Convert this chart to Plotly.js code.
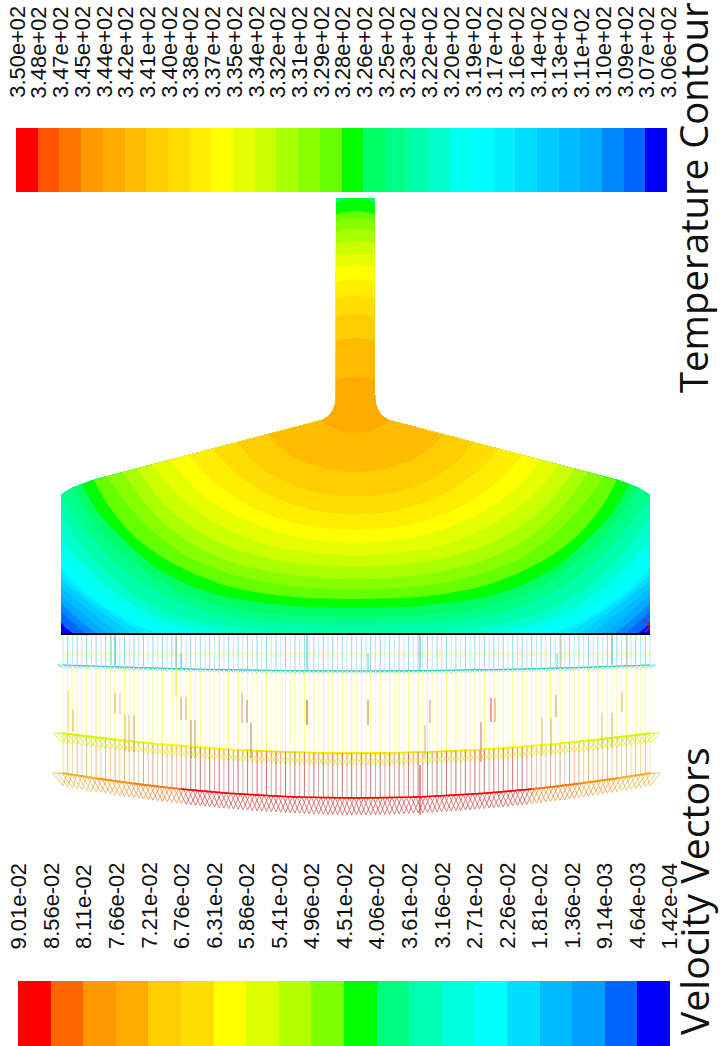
<!DOCTYPE html>
<html>
<head>
<meta charset="utf-8">
<script src="https://cdn.plot.ly/plotly-3.0.1.min.js"></script>
<style>html,body{margin:0;padding:0;background:#fff}#chart{width:720px;height:1046px}</style>
</head>
<body>
<div id="chart"></div>
<script>
// ---------- colour legends ----------
const tempLabels = ["3.50e+02","3.48e+02","3.47e+02","3.45e+02","3.44e+02","3.42e+02","3.41e+02","3.40e+02","3.38e+02","3.37e+02","3.35e+02","3.34e+02","3.32e+02","3.31e+02","3.29e+02","3.28e+02","3.26e+02","3.25e+02","3.23e+02","3.22e+02","3.20e+02","3.19e+02","3.17e+02","3.16e+02","3.14e+02","3.13e+02","3.11e+02","3.10e+02","3.09e+02","3.07e+02","3.06e+02"];
const tempColors = ["#FF0000","#FF5500","#FF7700","#FF9900","#FFAA00","#FFBB00","#FFCC00","#FFDD00","#FFEE00","#FFFF00","#E6FF00","#CCFF00","#AAFF00","#88FF00","#66FF00","#00FF00","#00FF66","#00FF88","#00FFAA","#00FFCC","#00FFEE","#00FFFF","#00EEFF","#00DDFF","#00CCFF","#00BBFF","#00AAFF","#0088FF","#0066FF","#0000FF"];
const velLabels = ["9.01e-02","8.56e-02","8.11e-02","7.66e-02","7.21e-02","6.76e-02","6.31e-02","5.86e-02","5.41e-02","4.96e-02","4.51e-02","4.06e-02","3.61e-02","3.16e-02","2.71e-02","2.26e-02","1.81e-02","1.36e-02","9.14e-03","4.64e-03","1.42e-04"];
const velColors = ["#FF0000","#FF6600","#FF9900","#FFAA00","#FFCC00","#FFDD00","#FFFF00","#DDFF00","#B2FF00","#80FF00","#00FF00","#00FF80","#00FFB2","#00FFDD","#00FFFF","#00DDFF","#00BBFF","#00A0FF","#0066FF","#0000FF"];

// ---------- temperature field: left half outline of the part ----------
const outlineX = [61,61,66,73,82,93,322,328,332.5,335.5,336,336];
const outlineY = [633,495,491.5,487.5,484,480,420,416.5,411,403,395,198];
const finX = [336,345,355.5];
// contour lines, index 0 = limit of colour bin 4; left half, ending at centre or bottom
const arcX = [
 [322,330,342,355.5],
 [268,280,300,327,355.5],
 [237,255,282,315,355.5],
 [212,235,262,295,328,355.5],
 [188,213,242,275,315,355.5],
 [170,195,225,260,300,330,355.5],
 [152,177,205,240,280,315,355.5],
 [137,160,187,222,262,300,355.5],
 [123,145,172,205,245,285,320,355.5],
 [107,128,155,190,230,265,300,355.5],
 [94,110,135,162,195,228,262,295,355.5],
 [82,98,122,152,185,222,258,295,355.5],
 [73,90,112,142,175,215,255,300,355.5],
 [61,80,103,135,170,210,250,300,355.5],
 [61,83,117,173,278],
 [61,85,120,165,228],
 [61,85,115,150,195],
 [61,85,110,135,160],
 [61,88,115,143],
 [61,92,130],
 [61,88,118],
 [61,82,107],
 [61,77,96],
 [61,72,85],
 [61,66,73],
 [61]
];
const arcY = [
 [420,426,431,433],
 [434.2,447,460,468,472],
 [442.3,462,480,492,496],
 [448.8,472,491,505,512.5,514],
 [455.1,481,502,517,527,530],
 [459.8,488,510,526,538,541.5,543],
 [464.5,494,516,535,548,553,556],
 [468.5,500,524,544,557,563.5,567],
 [472.1,503,530,551,566,574,577.5,579],
 [476.3,505,533,558,574,582,587,589],
 [479.7,508,537,557,574,586,593,597,599],
 [484,512,538,565,583,596,602,606,608],
 [487.5,515,542,568,589,604,612,616,617],
 [497,523,550,578,598,613,620,624,625],
 [516,547,582,614,633],
 [537,566,596,620,633],
 [555,581,605,623,633],
 [568,592,610,624,633],
 [575,598,616,633],
 [581,605,633],
 [588,609,633],
 [595,613,633],
 [603,618,633],
 [612,622,633],
 [622,628,633],
 [633]
];
const finEdgeY   = [380,341,317,299,282,268,256,244,232,221,214,203,198,198,198,198,198,198,198,198,198,198,198,198,198,198];
const finMidY    = [378,339,315,297,280,266,254,242,230,219,212,199,198,198,198,198,198,198,198,198,198,198,198,198,198,198];
const finCenterY = [377,338,314,296,279,265,253,241,229,218,211,198,198,198,198,198,198,198,198,198,198,198,198,198,198,198];

// ---------- velocity vectors: left half, one value per vector ----------
const vecX = [63.0,67.7,72.5,77.2,81.9,86.7,91.4,96.1,100.9,105.6,110.3,115.1,119.8,124.5,129.3,134.0,138.7,143.5,148.2,152.9,157.7,162.4,167.1,171.9,176.6,181.3,186.1,190.8,195.5,200.3,205.0,209.7,214.5,219.2,223.9,228.7,233.4,238.1,242.9,247.6,252.3,257.1,261.8,266.5,271.3,276.0,280.7,285.5,290.2,294.9,299.7,304.4,309.1,313.9,318.6,323.3,328.1,332.8,337.5,342.3,347.0,351.7,356.5];
const cyanRowY = [665.0,665.2,665.4,665.6,665.8,665.9,666.1,666.3,666.4,666.6,666.8,666.9,667.1,667.3,667.4,667.6,667.7,667.8,668.0,668.1,668.2,668.4,668.5,668.6,668.7,668.9,669.0,669.1,669.2,669.3,669.4,669.5,669.6,669.7,669.8,669.9,669.9,670.0,670.1,670.2,670.2,670.3,670.4,670.4,670.5,670.6,670.6,670.6,670.7,670.7,670.8,670.8,670.8,670.9,670.9,670.9,670.9,671,671,671,671,671,671];
const yellowRowY = [733.0,733.6,734.3,734.9,735.5,736.1,736.7,737.3,737.8,738.4,738.9,739.5,740.0,740.5,741.0,741.5,742.0,742.5,742.9,743.4,743.8,744.3,744.7,745.1,745.5,745.9,746.3,746.6,747.0,747.3,747.7,748.0,748.3,748.6,748.9,749.2,749.5,749.7,750.0,750.2,750.5,750.7,750.9,751.1,751.3,751.5,751.7,751.8,752.0,752.1,752.3,752.4,752.5,752.6,752.7,752.7,752.8,752.9,752.9,753.0,753.0,753.0,753.0];
const redRowY = [773.0,773.8,774.6,775.4,776.1,776.9,777.6,778.3,779.0,779.7,780.4,781.1,781.8,782.4,783.0,783.6,784.3,784.8,785.4,786.0,786.5,787.1,787.6,788.1,788.6,789.1,789.6,790.0,790.5,790.9,791.4,791.8,792.2,792.5,792.9,793.3,793.6,793.9,794.3,794.5,794.9,795.1,795.4,795.7,795.9,796.1,796.3,796.5,796.7,796.9,797.1,797.2,797.4,797.5,797.6,797.7,797.8,797.8,797.9,797.9,798.0,798.0,798.0];
// colour zones along the rows: vector index where each zone ends
const yellowZoneEnd = [12,20,40,63];
const yellowZoneBase = ["#CCFF00","#E6FF00","#FFFF00","#FFE800"];
const yellowZoneHead = ["#D4F000","#E8F000","#F4F000","#F4E400"];
const redZoneEnd = [8,16,26,63];
const redZoneBase = ["#F0B020","#FF9000","#FF7000","#FF0000"];
const redZoneHead = ["#E8B040","#EE9C30","#E88830","#CC4848"];
const redZoneShaft = ["#EFD9A0","#E8C898","#E8BDA0","#D8A0A0"];
const redZoneShaftDark = ["#E8C070","#E0B070","#DCA080","#C86464"];

// individual longer vectors that stand out
const accentX  = [115,120,73,68,125,129,134,181,186,191,195,111,115,176,181,176,242,247,251,307,307,368,368,420,420,425,430,491,495,481,542,551,556,602,612,622,561,557,612,627];
const accentY0 = [693,693,710,690,715,715,715,697,697,720,720,635,635,635,653,668,693,700,723,635,700,653,700,635,765,725,700,698,698,722,718,718,695,713,713,692,635,653,635,635];
const accentY1 = [714,714,732,732,752,752,752,720,720,758,758,665,665,668,668,697,723,723,758,670,725,670,725,670,815,758,723,722,722,762,755,755,717,748,748,712,668,668,665,665];
const accentColor = ["#DDAA55","#E8C080","#E0A850","#F0E060","#DDB060","#E0B870","#D8A860","#D8A050","#E0B060","#C89050","#D09858","#90D080","#40C0D0","#A8A870","#60D0E0","#F0F000","#D0A080","#D08070","#B87848","#40B8C8","#B84020","#60D0E0","#D07040","#40B8C8","#D02020","#D8A880","#D89070","#D05030","#D89060","#C07050","#E0B870","#D8A860","#D09840","#E0B870","#D8B060","#D8B050","#C0C090","#60D0E0","#40B8C8","#C0C890"];
const floorLineX = [61,650];
const floorLineY = [634,634];
const paleBandX = [62,651];
const paleBandY = [654.5,654.5];
const cornerMarkX = [645,650,null,645,650];
const cornerMarkY = [621,626,null,632,627];

// ---------- layout helpers ----------
const domainMirror = x => 711 - x;
const vecMirror = x => 713 - x;
const traces = [];

function legend(colors, x0, x1, y0, y1) {
  const n = colors.length, edges = [], z = [], scale = [];
  colors.forEach((c, i) => {
    edges.push(x0 + (x1 - x0) * i / n);
    z.push(i + 0.5);
    scale.push([i / n, c], [(i + 1) / n, c]);
  });
  edges.push(x1);
  traces.push({type:"heatmap", x:edges, y:[y0,y1], z:[z], zmin:0, zmax:n, colorscale:scale,
               showscale:false, hoverinfo:"skip", zsmooth:false});
}
legend(tempColors, 16, 667, 128, 192);
legend(velColors, 18, 669.5, 981, 1047);

function fillTrace(px, py, color, spline) {
  return {type:"scatter", mode:"lines", x:px, y:py, fill:"toself", fillcolor:color,
          line:{width:0, color:color, shape: spline ? "spline" : "linear", smoothing:1},
          hoverinfo:"skip"};
}
function regionTrace(i) {
  const ax = arcX[i], ay = arcY[i], fe = [finEdgeY[i], finMidY[i], finCenterY[i]];
  const px = [], py = [];
  ax.forEach((x, j) => { px.push(x); py.push(ay[j]); });
  for (let j = ax.length - 1; j >= 0; j--) { if (ax[j] !== 355.5) { px.push(domainMirror(ax[j])); py.push(ay[j]); } }
  const keep = [];
  outlineY.forEach((y, j) => { if (y < ay[0] && y > fe[0]) keep.push(j); });
  keep.forEach(j => { px.push(domainMirror(outlineX[j])); py.push(outlineY[j]); });
  finX.forEach((x, j) => { px.push(domainMirror(x)); py.push(fe[j]); });
  for (let j = finX.length - 2; j >= 0; j--) { px.push(finX[j]); py.push(fe[j]); }
  keep.slice().reverse().forEach(j => { px.push(outlineX[j]); py.push(outlineY[j]); });
  px.push(px[0]); py.push(py[0]);
  return fillTrace(px, py, tempColors[i + 4], false);
}
// smooth the curved edge of each region: same colour, drawn just under its polygon
function smoothEdges(i) {
  const ax = arcX[i], ay = arcY[i], c = tempColors[i + 4];
  if (ax.length < 3) return;
  if (ax[ax.length - 1] === 355.5) {
    const px = ax.slice(), py = ay.slice();
    for (let j = ax.length - 2; j >= 0; j--) { px.push(domainMirror(ax[j])); py.push(ay[j]); }
    traces.push(fillTrace(px, py, c, true));
  } else {
    traces.push(fillTrace(ax.slice(), ay.slice(), c, true));
    traces.push(fillTrace(ax.map(domainMirror), ay.slice(), c, true));
  }
}
for (let i = arcX.length - 1; i >= 0; i--) { smoothEdges(i); traces.push(regionTrace(i)); }

function lineTrace(xs, ys, color, width) {
  traces.push({type:"scatter", mode:"lines", x:xs, y:ys, line:{color:color, width:width},
               hoverinfo:"skip", connectgaps:false});
}
lineTrace(paleBandX, paleBandY, "#FFFAD0", 4.5);

function bothSides(k, fn) { fn(vecX[k], 1); if (k < vecX.length - 1) fn(vecMirror(vecX[k]), -1); }

function shafts(y0arr, y1arr, from, to, colorA, colorB) {
  [0, 1].forEach(p => {
    const xs = [], ys = [];
    for (let k = from; k < to; k++) {
      if (k % 2 !== p) continue;
      bothSides(k, x => { xs.push(x, x, null); ys.push(y0arr ? y0arr[k] : 635, y1arr[k], null); });
    }
    lineTrace(xs, ys, p ? colorB : colorA, 0.9);
  });
}
function heads(rowY, from, to, halfW, d0, d1, color, width) {
  const xs = [], ys = [];
  for (let k = from; k < to; k++) {
    const depth = d0 + (d1 - d0) * k / 62;
    bothSides(k, (x, s) => {
      const tilt = s * (k < 12 ? (12 - k) * 0.25 : 0);
      xs.push(x - halfW - tilt, x, x + halfW - tilt, x - halfW - tilt, null);
      ys.push(rowY[k], rowY[k] + depth, rowY[k], rowY[k], null);
    });
  }
  lineTrace(xs, ys, color, width);
}
function baseLine(rowY, from, to, color, width) {
  const xl = [], yl = [], xr = [], yr = [];
  for (let k = Math.max(from - 1, 0); k < to; k++) {
    xl.push(vecX[k]); yl.push(rowY[k]);
    xr.push(vecMirror(vecX[k])); yr.push(rowY[k]);
  }
  lineTrace(xl, yl, color, width);
  lineTrace(xr, yr, color, width);
}

// cyan row
shafts(null, cyanRowY, 0, 63, "#B4E8F2", "#80D8EA");
heads(cyanRowY, 0, 63, 2.4, 3, 3, "#50CCE0", 0.7);
baseLine(cyanRowY, 0, 63, "#38C4DC", 1.2);

// yellow row
shafts(cyanRowY, yellowRowY, 0, 63, "#FFFFB4", "#FFFF70");
yellowZoneEnd.forEach((e, i) => {
  const s = i ? yellowZoneEnd[i - 1] : 0;
  heads(yellowRowY, s, e, 7, 10, 13, yellowZoneHead[i], 0.7);
  baseLine(yellowRowY, s, e, yellowZoneBase[i], 1.4);
});

// red row
redZoneEnd.forEach((e, i) => {
  const s = i ? redZoneEnd[i - 1] : 0;
  shafts(yellowRowY, redRowY, s, e, redZoneShaft[i], redZoneShaftDark[i]);
  heads(redRowY, s, e, 7, 13, 17, redZoneHead[i], 0.7);
  baseLine(redRowY, s, e, redZoneBase[i], 1.5);
});

accentX.forEach((x, i) => lineTrace([x, x], [accentY0[i], accentY1[i]], accentColor[i], 1));
lineTrace(floorLineX, floorLineY, "#000000", 2);
lineTrace(cornerMarkX, cornerMarkY, "#E0102C", 1.4);

// ---------- text ----------
const annotations = [];
const numFont = {family:"Liberation Sans", size:21.9, color:"#111111"};
tempLabels.forEach((t, i) => annotations.push({
  text:t, x:16.7 + 21.71 * i, y:98, xref:"x", yref:"y", textangle:-90,
  xanchor:"center", yanchor:"bottom", showarrow:false, font:numFont, borderpad:0, borderwidth:0
}));
velLabels.forEach((t, i) => annotations.push({
  text:t, x:18.4 + 32.55 * i, y:949, xref:"x", yref:"y", textangle:-90,
  xanchor:"center", yanchor:"bottom", showarrow:false, font:numFont, borderpad:0, borderwidth:0
}));
annotations.push({text:"Temperature Contour", x:692.5, y:394, xref:"x", yref:"y", textangle:-90,
  xanchor:"center", yanchor:"bottom", showarrow:false,
  font:{family:"Open Sans", size:38.3, color:"#111111"}, borderpad:0});
annotations.push({text:"Velocity Vectors", x:693, y:1036, xref:"x", yref:"y", textangle:-90,
  xanchor:"center", yanchor:"bottom", showarrow:false,
  font:{family:"Open Sans", size:39.2, color:"#111111"}, borderpad:0});

const axisBase = {visible:false, showgrid:false, zeroline:false, fixedrange:true, autorange:false};
Plotly.newPlot("chart", traces, {
  width:720, height:1046, margin:{l:0,r:0,t:0,b:0},
  paper_bgcolor:"#FFFFFF", plot_bgcolor:"#FFFFFF", showlegend:false,
  xaxis:Object.assign({range:[0,720]}, axisBase),
  yaxis:Object.assign({range:[1046,0]}, axisBase),
  annotations:annotations
}, {displayModeBar:false, staticPlot:true});
</script>
</body>
</html>
